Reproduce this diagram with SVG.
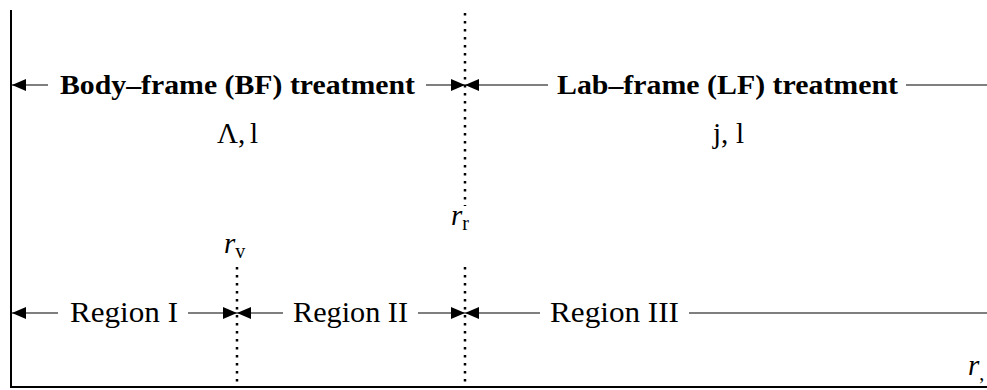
<svg xmlns="http://www.w3.org/2000/svg" width="987" height="390" viewBox="0 0 987 390">
<style>
text{font-family:"Liberation Serif","Times New Roman",serif;fill:#000}
.lbl{font-size:29px}
.bold{font-size:28px;font-weight:bold}
.math{font-size:29px}
.it{font-style:italic}
.sub{font-size:20px}
.ax{stroke:#000;stroke-width:2;fill:none}
.conn{stroke:#000;stroke-width:1.2;fill:none}
.dot{stroke:#000;stroke-width:2.5;stroke-dasharray:2.5 5.5;fill:none}
.head{fill:#000}
</style>
<defs>
<marker id="ah" viewBox="0 0 14 12" refX="14" refY="6" markerWidth="14" markerHeight="12" markerUnits="userSpaceOnUse" orient="auto">
<path d="M0,0 L14,6 L0,12 z" class="head"/>
</marker>
</defs>
<g id="axes">
<line class="ax" x1="11" y1="10" x2="11" y2="388"/>
<line class="ax" x1="10" y1="387" x2="987" y2="387"/>
</g>
<g id="boundaries">
<line class="dot" x1="465" y1="13" x2="465" y2="206"/>
<line class="dot" x1="465" y1="267" x2="465" y2="387"/>
<line class="dot" x1="237" y1="267" x2="237" y2="387"/>
</g>
<g id="connectors">
<line class="conn" x1="48" y1="85" x2="12" y2="85" marker-end="url(#ah)"/>
<line class="conn" x1="426" y1="85" x2="465" y2="85" marker-end="url(#ah)"/>
<line class="conn" x1="548" y1="85" x2="465" y2="85" marker-end="url(#ah)"/>
<line class="conn" x1="906" y1="85" x2="987" y2="85"/>
<line class="conn" x1="58" y1="313" x2="12" y2="313" marker-end="url(#ah)"/>
<line class="conn" x1="188" y1="313" x2="237" y2="313" marker-end="url(#ah)"/>
<line class="conn" x1="283" y1="313" x2="237" y2="313" marker-end="url(#ah)"/>
<line class="conn" x1="418" y1="313" x2="465" y2="313" marker-end="url(#ah)"/>
<line class="conn" x1="540" y1="313" x2="465" y2="313" marker-end="url(#ah)"/>
<line class="conn" x1="689" y1="313" x2="987" y2="313"/>
</g>
<g id="bf">
<text class="bold" x="60" y="94" textLength="355" lengthAdjust="spacingAndGlyphs">Body–frame (BF) treatment</text>
<text class="math" x="217" y="143">Λ,<tspan x="250">l</tspan></text>
</g>
<g id="lf">
<text class="bold" x="557" y="94" textLength="341" lengthAdjust="spacingAndGlyphs">Lab–frame (LF) treatment</text>
<text class="math" x="713" y="143">j,<tspan x="736">l</tspan></text>
</g>
<g id="region1"><text class="lbl" x="70" y="322" textLength="108" lengthAdjust="spacingAndGlyphs">Region I</text></g>
<g id="region2"><text class="lbl" x="293" y="322" textLength="115" lengthAdjust="spacingAndGlyphs">Region II</text></g>
<g id="region3"><text class="lbl" x="550" y="322" textLength="129" lengthAdjust="spacingAndGlyphs">Region III</text></g>
<g id="rv"><text class="math" x="224" y="253"><tspan class="it">r</tspan><tspan class="sub" dy="5">v</tspan></text></g>
<g id="rr"><text class="math" x="451" y="225"><tspan class="it">r</tspan><tspan class="sub" dy="5">r</tspan></text></g>
<g id="rx"><text class="math" x="968" y="375"><tspan class="it">r</tspan><tspan class="sub" dy="5">,</tspan></text></g>
</svg>
